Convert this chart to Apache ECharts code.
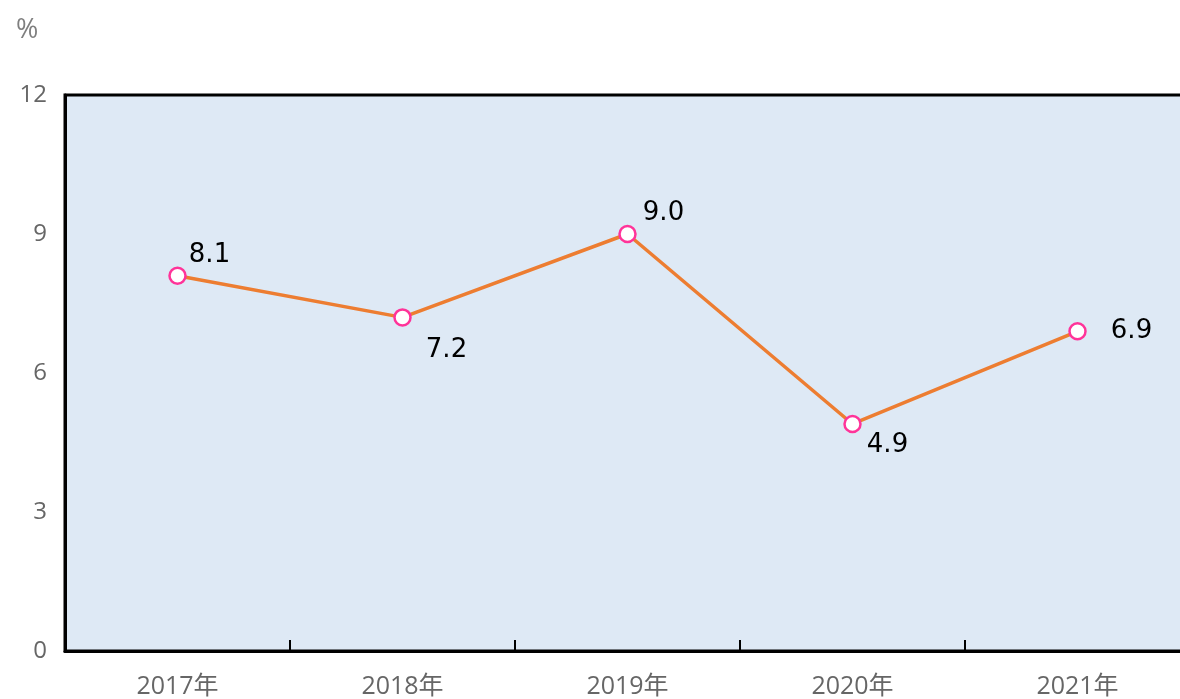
<!DOCTYPE html>
<html><head><meta charset="utf-8">
<script src="https://cdn.jsdelivr.net/npm/echarts@6/dist/echarts.min.js"></script>
<style>html,body{margin:0;padding:0;background:#fff;overflow:hidden}#c{width:1200px;height:699px}</style>
</head><body><div id="c"></div>
<script>
const categories = ['2017年','2018年','2019年','2020年','2021年'];
const values = [8.1, 7.2, 9.0, 4.9, 6.9];
const yTicks = [0, 3, 6, 9, 12];
const labelOffsets = [[32,-20],[44,33],[36,-21],[35,21],[54,0]];

const chart = echarts.init(document.getElementById('c'));
chart.setOption({
  animation: false,
  graphic: [{type:'text', left: 16, top: 17, style:{text:'%', fill:'#7f7f7f', font:'27px "Open Sans", sans-serif'}}],
  grid: {left: 65, top: 95, width: 1125, height: 556, show: true, backgroundColor: '#DEE9F5', borderColor: '#000', borderWidth: 3},
  xAxis: {
    type: 'category', data: categories, boundaryGap: true,
    axisLine: {lineStyle: {color: '#000', width: 3}},
    axisTick: {show: true, inside: true, length: 11, lineStyle: {color: '#000', width: 2}},
    axisLabel: {color: '#666', fontSize: 25, margin: 23, fontFamily: 'Open Sans, "Noto Sans CJK SC", sans-serif'}
  },
  yAxis: {
    type: 'value', min: yTicks[0], max: yTicks[yTicks.length-1], interval: 3,
    splitLine: {show: false},
    axisLine: {show: true, lineStyle: {color: '#000', width: 3}},
    axisTick: {show: false},
    axisLabel: {color: '#666', fontSize: 24, margin: 18, fontFamily: 'Open Sans, sans-serif'}
  },
  series: [{
    type: 'line', data: values.map((v,i)=>({value:v, label:{offset: labelOffsets[i]}})),
    lineStyle: {color: '#ED7D31', width: 3.5},
    symbol: 'circle', symbolSize: 16,
    itemStyle: {color: '#fff', borderColor: '#FF3399', borderWidth: 2.5},
    label: {show: true, position: 'inside', formatter: p => p.value.toFixed(1), color: '#000', fontSize: 26, fontFamily: '"DejaVu Sans", sans-serif'}
  }]
});
</script></body></html>
